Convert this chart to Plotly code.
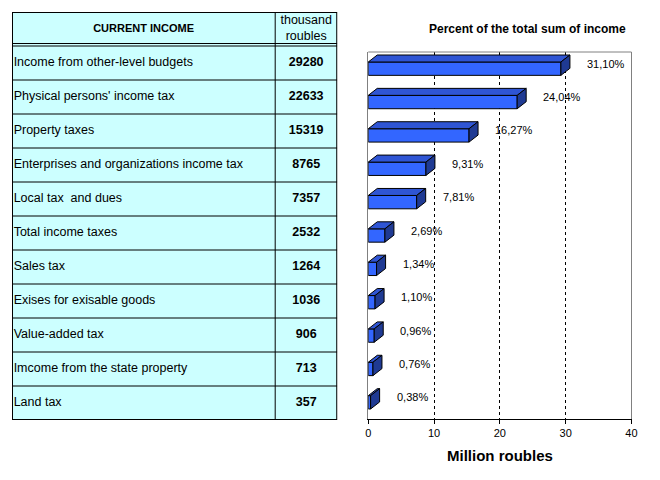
import plotly.graph_objects as go

# data
categories = [
    "Income from other-level budgets",
    "Physical persons' income tax",
    "Property taxes",
    "Enterprises and organizations income tax",
    "Local tax  and dues",
    "Total income taxes",
    "Sales tax",
    "Exises for exisable goods",
    "Value-added tax",
    "Imcome from the state property",
    "Land tax",
]
values_thousand = [29280, 22633, 15319, 8765, 7357, 2532, 1264, 1036, 906, 713, 357]
percent_labels = ["31,10%", "24,04%", "16,27%", "9,31%", "7,81%", "2,69%",
                  "1,34%", "1,10%", "0,96%", "0,76%", "0,38%"]
header = ["CURRENT INCOME", "thousand<br>roubles"]
x_ticks = [0, 10, 20, 30, 40]

values_million = [v / 1000 for v in values_thousand]
idx = list(range(len(categories)))

FONT = "Arial, Liberation Sans, sans-serif"
FRONT = "#3366FF"
TOP = "#2F55D4"
SIDE = "#1F3A93"
CELL = "#CCFFFF"

# page offsets seen in the rendered picture
W, H = 652, 464
OFF_X, SCALE_X, OFF_Y = 11, 0.9855, 8


def fx(px):
    return (px - OFF_X) / SCALE_X / W


def fy(py):
    return 1 - (py - OFF_Y) / H


# 3D depth of the bars (in axis units)
DX = 1.37
DY = 0.21
HALF = 0.2

fig = go.Figure()

# ---- bar chart (right) ----
fig.add_trace(go.Bar(
    x=values_million, y=idx, orientation="h", width=HALF * 2,
    marker=dict(color=FRONT, line=dict(color="black", width=1)),
    hoverinfo="skip",
))

top_x, top_y, side_x, side_y = [], [], [], []
for i, v in zip(idx, values_million):
    t = i - HALF
    b = i + HALF
    top_x += [0, v, v + DX, DX, 0, None]
    top_y += [t, t, t - DY, t - DY, t, None]
    side_x += [v, v + DX, v + DX, v, v, None]
    side_y += [t, t - DY, b - DY, b, t, None]

fig.add_trace(go.Scatter(x=top_x, y=top_y, mode="lines", fill="toself",
                         fillcolor=TOP, line=dict(color="black", width=1),
                         hoverinfo="skip"))
fig.add_trace(go.Scatter(x=side_x, y=side_y, mode="lines", fill="toself",
                         fillcolor=SIDE, line=dict(color="black", width=1),
                         hoverinfo="skip"))

for i, v, lab in zip(idx, values_million, percent_labels):
    fig.add_annotation(x=v, y=i, text=lab, showarrow=False, xanchor="left",
                       xshift=24, yshift=5, font=dict(size=11, color="black"))

# ---- table (left) ----
n_rows = len(categories) + 1
col_split = 263 / 325
rows = [i + 1 for i in idx]

fig.add_shape(type="rect", xref="x2", yref="y2", x0=0, x1=1, y0=-0.5,
              y1=n_rows - 0.5, fillcolor=CELL, line=dict(width=0), layer="below")

fig.add_trace(go.Scatter(
    x=[0.005] * len(categories), y=rows, mode="text", text=categories,
    textposition="middle right", textfont=dict(size=12.5, color="black"),
    xaxis="x2", yaxis="y2", hoverinfo="skip"))
fig.add_trace(go.Scatter(
    x=[(1 + col_split) / 2] * len(values_thousand), y=rows, mode="text",
    text=["<b>%d</b>" % v for v in values_thousand],
    textposition="middle center", textfont=dict(size=12.5, color="black"),
    xaxis="x2", yaxis="y2", hoverinfo="skip"))
fig.add_trace(go.Scatter(
    x=[col_split / 2], y=[0], mode="text", text=["<b>" + header[0] + "</b>"],
    textposition="middle center", textfont=dict(size=11, color="black"),
    xaxis="x2", yaxis="y2", hoverinfo="skip"))
fig.add_trace(go.Scatter(
    x=[(1 + col_split) / 2], y=[0], mode="text", text=[header[1]],
    textposition="middle center", textfont=dict(size=12.5, color="black"),
    xaxis="x2", yaxis="y2", hoverinfo="skip"))

for k in range(1, n_rows - 1):
    fig.add_shape(type="line", xref="x2", yref="y2", x0=0, x1=1,
                  y0=k + 0.5, y1=k + 0.5, line=dict(color="black", width=1))
# double line under header
for yy in (0.5 - 2.5 / 34, 0.5):
    fig.add_shape(type="line", xref="x2", yref="y2", x0=0, x1=1,
                  y0=yy, y1=yy, line=dict(color="black", width=1))
fig.add_shape(type="line", xref="x2", yref="y2", x0=col_split, x1=col_split,
              y0=-0.5, y1=n_rows - 0.5, line=dict(color="black", width=1))
fig.add_shape(type="rect", xref="x2", yref="y2", x0=0, x1=1, y0=-0.5,
              y1=n_rows - 0.5, line=dict(color="black", width=2))

# plot frame top edge
fig.add_shape(type="line", xref="x domain", yref="y domain", x0=0, x1=1,
              y0=1, y1=1, line=dict(color="#808080", width=1))

fig.add_annotation(x=fx(527), y=fy(29), xref="paper", yref="paper",
                   xanchor="center", yanchor="middle",
                   text="<b>Percent of the total sum of income</b>", showarrow=False,
                   font=dict(size=12, color="black"))
fig.add_annotation(x=fx(499.5), y=fy(455), xref="paper", yref="paper",
                   xanchor="center", yanchor="middle",
                   text="<b>Million roubles</b>", showarrow=False,
                   font=dict(size=15, color="black"))

fig.update_layout(
    width=W, height=H,
    margin=dict(l=0, r=0, t=0, b=0),
    paper_bgcolor="white", plot_bgcolor="white",
    font=dict(family=FONT, color="black"),
    showlegend=False,
    xaxis=dict(domain=[fx(368), fx(631)], range=[0, 40], tickvals=x_ticks,
               showgrid=True, gridcolor="black", griddash="3px,3px", gridwidth=1,
               showline=True, linecolor="black", linewidth=1, zeroline=False,
               ticks="outside", ticklen=4, tickcolor="black",
               tickfont=dict(size=11), fixedrange=True),
    yaxis=dict(domain=[fy(419), fy(52)], range=[10.5, -0.5],
               showticklabels=False, showgrid=False, zeroline=False,
               showline=True, linecolor="#808080", mirror=True, fixedrange=True),
    xaxis2=dict(domain=[fx(12), fx(337)], range=[0, 1], visible=False,
                fixedrange=True),
    yaxis2=dict(domain=[fy(420), fy(12)], range=[n_rows - 0.5, -0.5],
                visible=False, fixedrange=True),
)

fig.write_html("out.html")
